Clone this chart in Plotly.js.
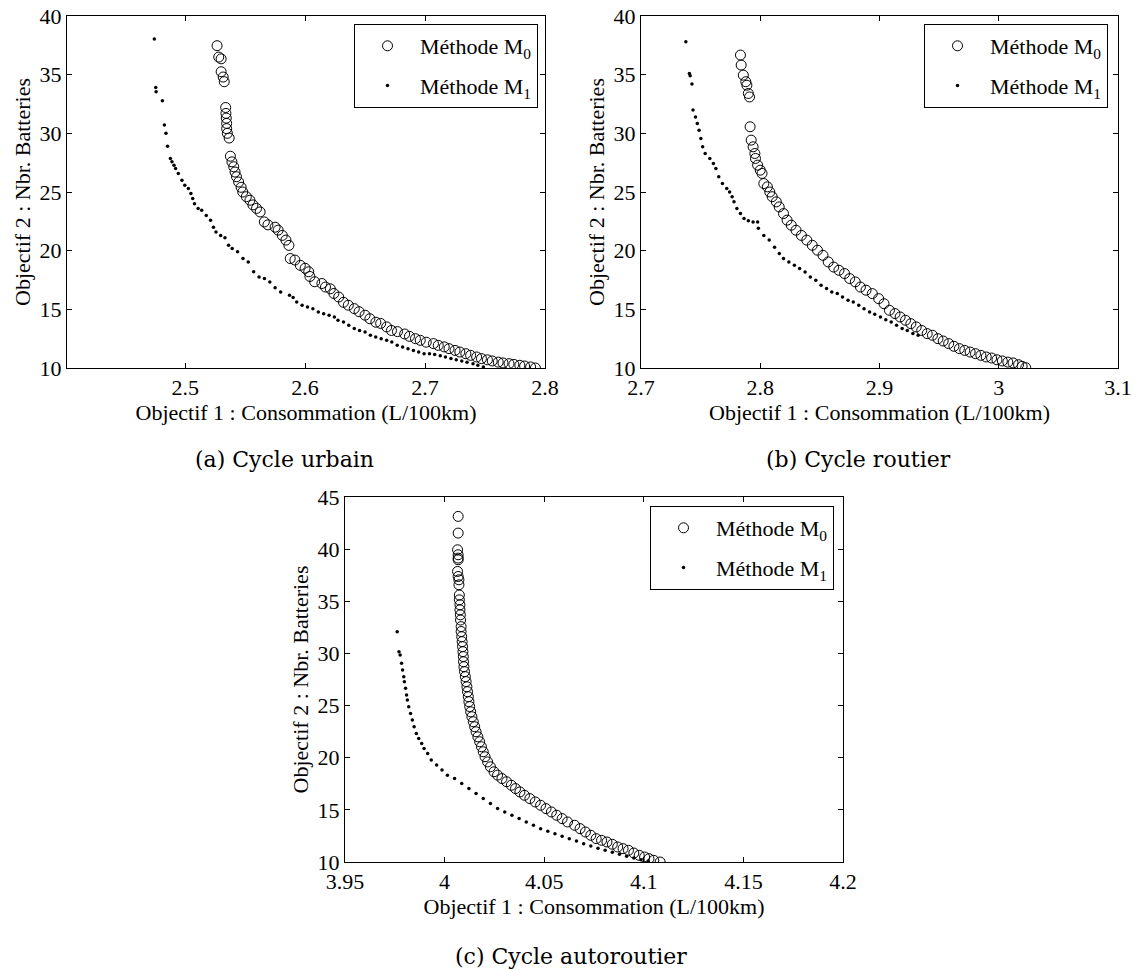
<!DOCTYPE html>
<html><head><meta charset="utf-8">
<script src="https://cdn.plot.ly/plotly-3.0.1.min.js"></script>
<style>html,body{margin:0;padding:0;background:#fff}#chart{width:1133px;height:970px}</style>
</head><body><div id="chart"></div><script>
// ---------- (a) Cycle urbain ----------
const urbainM0x = [2.5266,2.528,2.530,2.530,2.5317,2.5326,2.5338,2.534,2.5343,2.5346,2.5346,2.5352,2.5367,2.5377,2.539,2.5405,2.5416,2.5428,2.5446,2.5467,2.548,2.551,2.554,2.5565,2.5595,2.5625,2.566,2.569,2.575,2.5775,2.581,2.584,2.5865,2.5876,2.5915,2.596,2.6,2.603,2.604,2.608,2.614,2.617,2.621,2.624,2.628,2.632,2.636,2.641,2.645,2.65,2.654,2.659,2.663,2.668,2.672,2.677,2.683,2.687,2.692,2.696,2.701,2.707,2.711,2.716,2.72,2.725,2.729,2.734,2.738,2.743,2.747,2.752,2.756,2.761,2.765,2.77,2.774,2.779,2.783,2.788,2.792];
const urbainM0y = [37.47,36.5,36.35,35.25,34.8,34.4,32.2,31.7,31.3,30.85,30.4,30.0,29.6,28.05,27.57,27.15,26.7,26.3,25.85,25.4,25.0,24.6,24.3,23.9,23.6,23.3,22.45,22.2,22.0,21.75,21.3,20.9,20.45,19.33,19.2,18.75,18.5,18.2,17.8,17.35,17.2,16.9,16.75,16.35,16.05,15.6,15.35,15.06,14.8,14.5,14.2,13.9,13.8,13.5,13.2,13.1,12.9,12.7,12.5,12.36,12.2,12.08,11.93,11.8,11.65,11.5,11.36,11.22,11.08,10.94,10.8,10.7,10.6,10.5,10.43,10.37,10.31,10.23,10.17,10.09,10.0];
const urbainM1x = [2.4743,2.4755,2.4758,2.481,2.4827,2.484,2.4853,2.4877,2.489,2.4907,2.492,2.4943,2.4973,2.4997,2.5027,2.5048,2.5063,2.5078,2.5108,2.5138,2.5176,2.5212,2.5236,2.5257,2.5296,2.5332,2.5362,2.5392,2.5437,2.5482,2.5526,2.5571,2.5616,2.5661,2.5706,2.575,2.5796,2.587,2.59,2.593,2.5975,2.602,2.6065,2.611,2.6155,2.62,2.6244,2.6274,2.632,2.6364,2.641,2.6454,2.65,2.6544,2.6589,2.6634,2.668,2.6723,2.6768,2.6813,2.6858,2.6903,2.6947,2.6992,2.7037,2.708,2.7127,2.717,2.7216,2.726,2.7306,2.735,2.74,2.744,2.7486];
const urbainM1y = [38.03,33.9,33.55,32.78,30.7,30.0,28.9,27.86,27.57,27.29,27.0,26.58,26.0,25.58,25.3,24.87,24.44,24.0,23.6,23.45,23.0,22.6,22.0,21.6,21.3,21.1,20.46,20.18,19.9,19.33,19.04,18.2,17.76,17.62,17.34,16.85,16.48,16.2,16.0,15.63,15.35,15.2,15.06,14.78,14.63,14.5,14.35,14.07,13.92,13.64,13.36,13.2,13.07,12.8,12.64,12.5,12.36,12.22,11.93,11.8,11.65,11.5,11.36,11.22,11.22,11.14,11.05,10.94,10.8,10.7,10.6,10.5,10.37,10.23,10.09];

// ---------- (b) Cycle routier ----------
const routierM0x = [2.7834,2.784,2.7858,2.7879,2.7888,2.79,2.791,2.7915,2.7924,2.794,2.7955,2.796,2.7978,2.8,2.8015,2.803,2.806,2.808,2.81,2.8135,2.8159,2.8195,2.8225,2.826,2.83,2.8345,2.839,2.8436,2.848,2.8526,2.857,2.8616,2.866,2.8707,2.875,2.8797,2.884,2.8887,2.894,2.8993,2.9038,2.9083,2.913,2.9173,2.9218,2.9263,2.9308,2.9354,2.94,2.9444,2.949,2.9534,2.958,2.9624,2.967,2.9715,2.976,2.9805,2.985,2.9895,2.994,2.9985,3.003,3.0076,3.012,3.0166,3.0196,3.0226];
const routierM0y = [36.67,35.82,34.96,34.4,34.1,33.4,33.1,30.56,29.42,28.85,28.28,27.86,27.29,26.86,26.58,25.72,25.44,25.0,24.6,24.16,23.73,23.16,22.6,22.17,21.74,21.3,20.9,20.46,20.04,19.6,19.04,18.6,18.33,18.05,17.62,17.34,16.9,16.63,16.34,15.91,15.48,14.92,14.64,14.35,14.07,13.78,13.5,13.2,12.93,12.79,12.5,12.3,12.08,11.85,11.65,11.5,11.36,11.22,11.08,10.94,10.85,10.7,10.6,10.5,10.43,10.28,10.14,10.03];
const routierM1x = [2.7376,2.7406,2.7412,2.7427,2.7436,2.7457,2.7472,2.7487,2.7502,2.7517,2.7538,2.7577,2.7607,2.7628,2.7652,2.7683,2.7719,2.7743,2.7764,2.778,2.7804,2.7834,2.7864,2.79,2.794,2.7978,2.7984,2.803,2.8075,2.812,2.816,2.8195,2.824,2.8286,2.833,2.8376,2.842,2.8466,2.851,2.8556,2.86,2.8646,2.869,2.8736,2.878,2.8826,2.887,2.8917,2.896,2.9008,2.9053,2.9098,2.9143,2.919,2.9233,2.928,2.9324];
const routierM1y = [37.8,35.1,34.9,34.2,31.98,31.4,30.84,30.27,29.56,28.85,28.28,27.86,27.43,27.0,26.29,25.72,25.3,25.0,24.6,24.16,23.6,23.16,22.74,22.54,22.45,22.45,21.9,21.3,20.9,20.3,19.75,19.33,19.04,18.76,18.47,18.19,17.76,17.48,17.05,16.77,16.48,16.34,16.06,15.77,15.63,15.35,15.06,14.78,14.58,14.35,14.12,13.92,13.64,13.36,13.2,12.93,12.79];

// ---------- (c) Cycle autoroutier ----------
const autoM0x = [4.0068,4.0068,4.0065,4.0068,4.0068,4.0068,4.0065,4.0068,4.0072,4.0072,4.0074,4.0074,4.0077,4.0077,4.0079,4.008,4.0083,4.0083,4.0086,4.0088,4.009,4.0092,4.0094,4.0095,4.0097,4.01,4.0104,4.0108,4.0112,4.0115,4.0119,4.0122,4.0126,4.0131,4.0137,4.0144,4.0151,4.0158,4.0167,4.0176,4.0185,4.0194,4.0203,4.0216,4.023,4.0248,4.0266,4.0288,4.0311,4.0335,4.0356,4.0378,4.0401,4.0428,4.0455,4.0482,4.0509,4.0536,4.0563,4.059,4.0617,4.0653,4.068,4.0707,4.0734,4.0761,4.0788,4.0815,4.0842,4.0869,4.0896,4.0923,4.095,4.0977,4.1004,4.1026,4.105,4.1082];
const autoM0y = [43.14,41.54,39.94,39.46,39.14,38.98,37.86,37.38,37.06,36.58,35.6,35.14,34.66,34.18,33.7,33.2,32.57,32.1,31.6,31.13,30.65,30.17,29.7,29.2,28.73,28.25,27.77,27.3,26.8,26.33,25.85,25.37,24.9,24.4,23.93,23.45,22.97,22.49,22.0,21.53,21.05,20.57,20.09,19.6,19.13,18.65,18.33,18.0,17.7,17.36,17.04,16.72,16.4,16.08,15.76,15.44,15.12,14.8,14.48,14.16,13.84,13.52,13.2,12.88,12.56,12.24,12.08,11.92,11.7,11.44,11.28,11.12,10.86,10.64,10.48,10.32,10.16,10.0];
const autoM1x = [3.9762,3.9771,3.9777,3.9784,3.9789,3.9795,3.9798,3.9804,3.9809,3.9813,3.982,3.9829,3.9838,3.9847,3.9858,3.987,3.9885,3.9897,3.9915,3.9933,3.996,3.9987,4.0014,4.005,4.0086,4.0122,4.0158,4.0194,4.023,4.0266,4.0302,4.0338,4.0374,4.041,4.0446,4.0482,4.0518,4.0554,4.059,4.0626,4.0662,4.0698,4.0734,4.077,4.0806,4.0842,4.0878,4.0914,4.095,4.0986,4.1022];
const autoM1y = [32.09,30.17,29.85,29.05,28.41,27.77,27.29,26.65,26.01,25.53,24.89,24.25,23.61,22.97,22.33,21.85,21.37,20.89,20.41,19.77,19.29,18.81,18.33,18.0,17.52,17.04,16.56,16.08,15.6,15.12,14.8,14.48,14.16,13.84,13.52,13.2,12.95,12.72,12.47,12.24,12.02,11.76,11.54,11.31,11.12,10.93,10.74,10.54,10.38,10.22,10.1];

// ---------- labels ----------
const seriesNames = ['Méthode M<sub>0</sub>', 'Méthode M<sub>1</sub>'];
const xTitle = 'Objectif 1 : Consommation (L/100km)';
const yTitle = 'Objectif 2 : Nbr. Batteries';
const captions = ['(a) Cycle urbain', '(b) Cycle routier', '(c) Cycle autoroutier'];
const xTicksA = [2.5, 2.6, 2.7, 2.8];
const xTicksB = [2.7, 2.8, 2.9, 3.0, 3.1];
const xTicksC = [3.95, 4.0, 4.05, 4.1, 4.15, 4.2];
const yTicksAB = [10, 15, 20, 25, 30, 35, 40];
const yTicksC = [10, 15, 20, 25, 30, 35, 40, 45];

const FONT = 'Liberation Serif';
const W = 1133, H = 970;
const fx = p => p / W, fy = p => 1 - p / H;

function m0(x, y, xa, ya, lg, grp) {
  return {x, y, xaxis: xa, yaxis: ya, type: 'scatter', mode: 'markers', name: seriesNames[0],
    legend: lg, legendgroup: grp + '0',
    marker: {symbol: 'circle-open', size: 10, color: '#000', line: {width: 1, color: '#000'}}};
}
function m1(x, y, xa, ya, lg, grp) {
  return {x, y, xaxis: xa, yaxis: ya, type: 'scatter', mode: 'markers', name: seriesNames[1],
    legend: lg, legendgroup: grp + '1',
    marker: {symbol: 'circle', size: 3.5, color: '#000'}};
}
const traces = [
  m0(urbainM0x, urbainM0y, 'x', 'y', 'legend', 'a'),
  m1(urbainM1x, urbainM1y, 'x', 'y', 'legend', 'a'),
  m0(routierM0x, routierM0y, 'x2', 'y2', 'legend2', 'b'),
  m1(routierM1x, routierM1y, 'x2', 'y2', 'legend2', 'b'),
  m0(autoM0x, autoM0y, 'x3', 'y3', 'legend3', 'c'),
  m1(autoM1x, autoM1y, 'x3', 'y3', 'legend3', 'c')
];

const tf = {family: FONT, size: 22, color: '#000'};
function axisBase(extra) {
  return Object.assign({ticks: 'inside', ticklen: 5, tickwidth: 1, tickcolor: '#000', showline: true,
    linecolor: '#000', linewidth: 1, mirror: 'ticks', showgrid: false, zeroline: false,
    tickfont: tf, fixedrange: true, automargin: false}, extra);
}
function xAxis(domain, range, tickvals, anchor) {
  return axisBase({domain, range, tickvals, anchor, tickmode: 'array',
    title: {text: xTitle, font: tf, standoff: 0}});
}
function yAxis(domain, range, tickvals, anchor) {
  return axisBase({domain, range, tickvals, anchor, tickmode: 'array',
    title: {text: yTitle, font: tf, standoff: 2}});
}
function legendAt(rightPx, topPx) {
  return {x: fx(rightPx), xanchor: 'right', y: fy(topPx), yanchor: 'top', bgcolor: '#fff',
    bordercolor: '#000', borderwidth: 1, font: tf, traceorder: 'grouped', tracegroupgap: 8,
    itemwidth: 55};
}
const capFont = {family: 'DejaVu Serif', size: 22, color: '#000'};
const layout = {
  width: W, height: H, margin: {l: 0, r: 0, t: 0, b: 0}, paper_bgcolor: '#fff', plot_bgcolor: '#fff',
  showlegend: true,
  xaxis: xAxis([fx(67), fx(545)], [2.4015, 2.8], xTicksA, 'y'),
  yaxis: yAxis([fy(368), fy(16)], [10, 40], yTicksAB, 'x'),
  xaxis2: xAxis([fx(641), fx(1118)], [2.7, 3.1], xTicksB, 'y2'),
  yaxis2: yAxis([fy(368), fy(16)], [10, 40], yTicksAB, 'x2'),
  xaxis3: xAxis([fx(345), fx(843)], [3.95, 4.2], xTicksC, 'y3'),
  yaxis3: yAxis([fy(862), fy(497)], [10, 45], yTicksC, 'x3'),
  legend: legendAt(538, 24),
  legend2: legendAt(1108, 24),
  legend3: legendAt(834, 506),
  annotations: [
    {text: captions[0], x: fx(284), y: fy(459), xref: 'paper', yref: 'paper', showarrow: false, font: capFont, xanchor: 'center', yanchor: 'middle'},
    {text: captions[1], x: fx(858), y: fy(459), xref: 'paper', yref: 'paper', showarrow: false, font: capFont, xanchor: 'center', yanchor: 'middle'},
    {text: captions[2], x: fx(571), y: fy(956), xref: 'paper', yref: 'paper', showarrow: false, font: capFont, xanchor: 'center', yanchor: 'middle'}
  ]
};
Plotly.newPlot('chart', traces, layout, {displayModeBar: false, staticPlot: true});
</script></body></html>
